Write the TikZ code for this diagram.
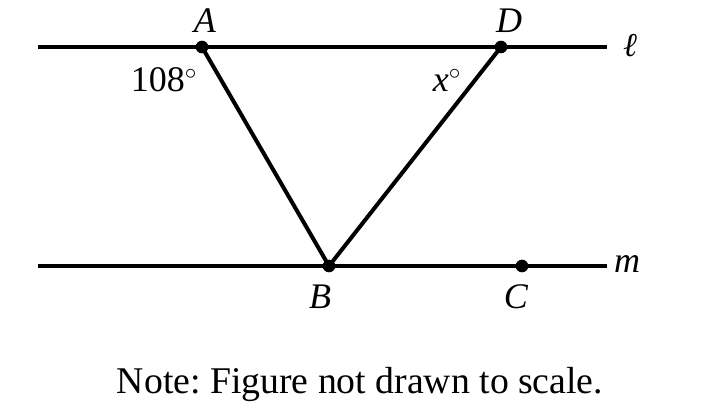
\documentclass[tikz,border=0pt]{standalone}
\usepackage{fontspec}
\setmainfont{Liberation Serif}
\usetikzlibrary{positioning}
\frenchspacing

\begin{document}
\begin{tikzpicture}[x=0.75pt,y=-0.75pt,
    line/.style={line width=3pt},
    dot/.style={circle,fill=black,inner sep=0pt,minimum size=9.5pt},
    lbl/.style={inner sep=0pt,anchor=base,font=\fontsize{27}{32}\selectfont}]
\useasboundingbox (0,0) rectangle (705,413);
% Points
\node[dot] (A) at (202,47) {};
\node[dot] (D) at (501,47) {};
\node[dot] (B) at (329,266) {};
\node[dot] (C) at (522,266) {};
\coordinate (l1) at (38,47);
\coordinate (l2) at (607,47);
\coordinate (m1) at (38,266);
\coordinate (m2) at (607,266);

% Parallel lines and triangle
\draw[line] (l1) -- (l2);
\draw[line] (m1) -- (m2);
\draw[line] (A.center) -- (B.center) -- (D.center);

% Labels
\node[lbl] (lblA) at (205,33) {\textit{A}};
\node[lbl] (lblD) at (509,33) {\textit{D}};
\node[lbl] (lblB) at (320,308) {\textit{B}};
\node[lbl] (lblC) at (516,308) {\textit{C}};
\node[lbl,font=\fontsize{25}{30}\selectfont] (lbll) at (630,57) {\textit{ℓ}};
\node[lbl] (lblm) at (627,272) {\textit{m}};
\node[lbl] (ang1) at (164,92) {108$^\circ$};
\node[lbl] (ang2) at (447,92) {\textit{x}$^\circ$};

% Note
\node[inner sep=0pt,anchor=base,font=\fontsize{28.3}{34}\selectfont] (note) at (360,393)
    {Note: Figure not drawn to scale.};
\end{tikzpicture}
\end{document}
